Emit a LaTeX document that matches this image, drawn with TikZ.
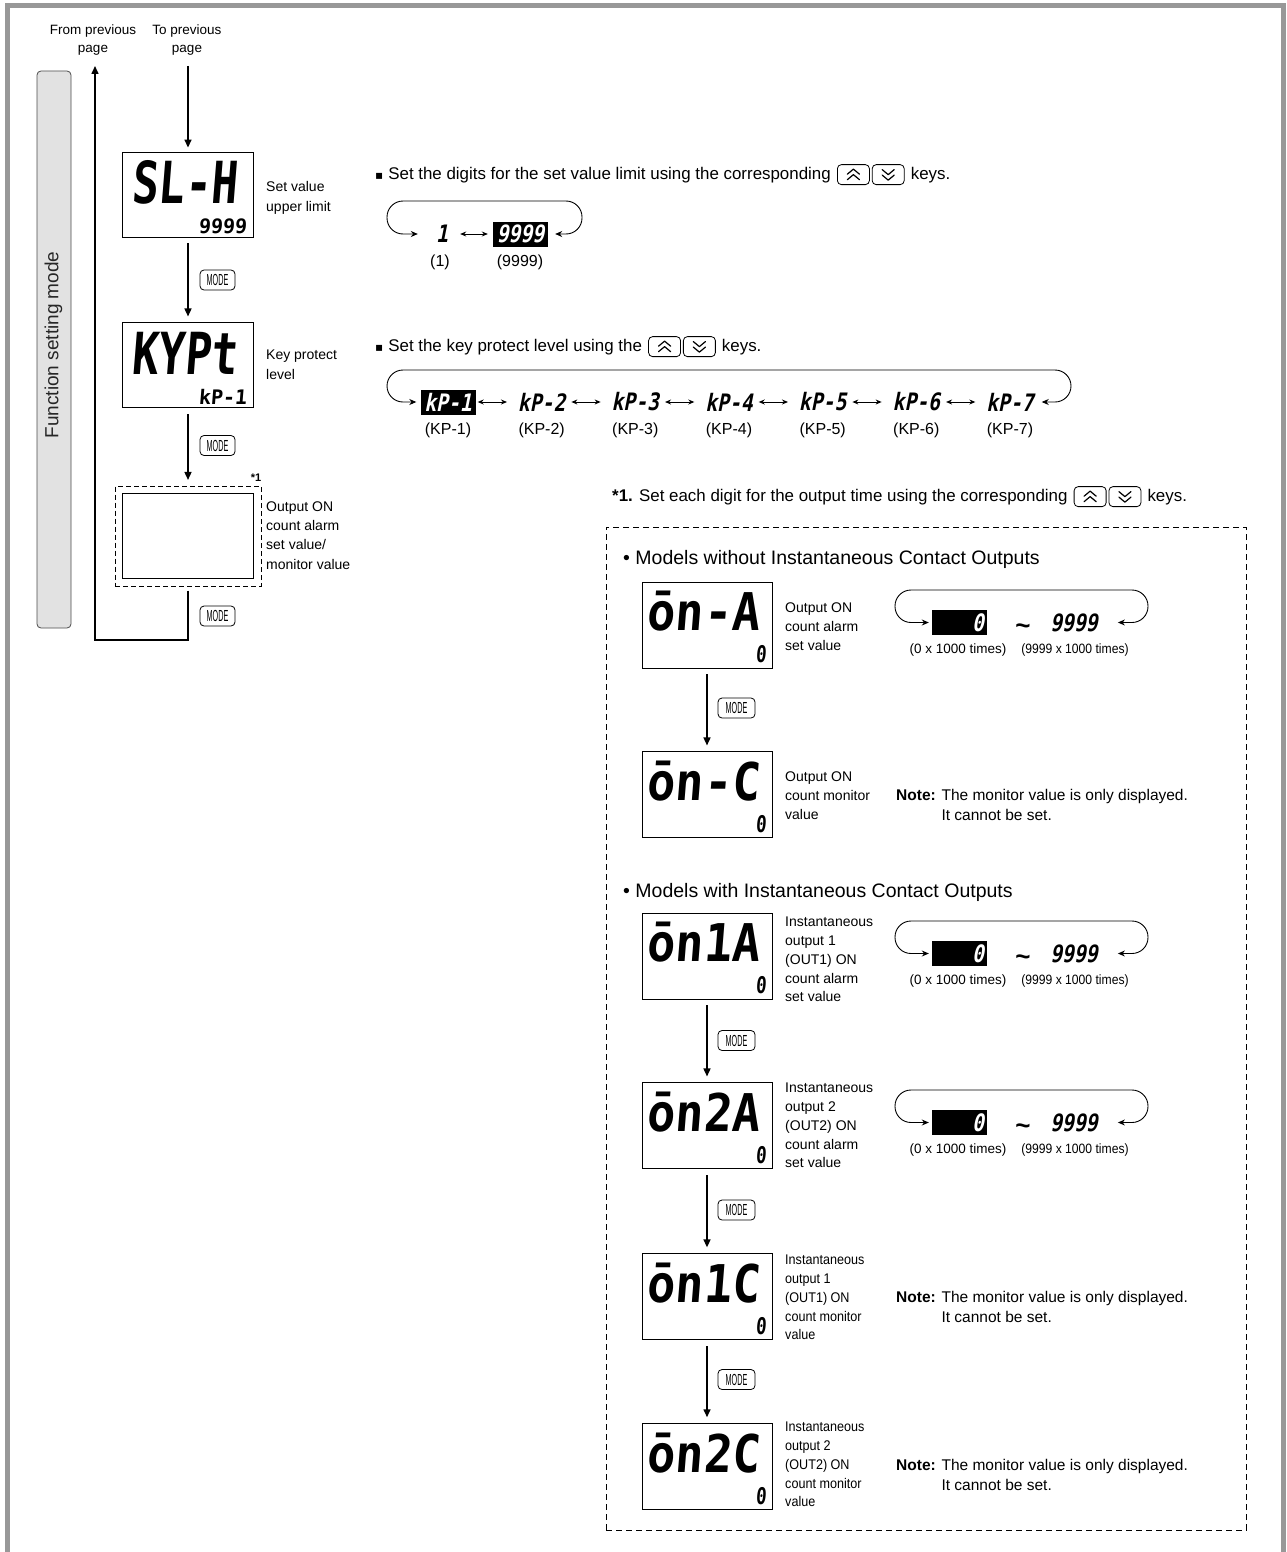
\documentclass[tikz,border=0pt]{standalone}
\usepackage{fontspec}
\setmainfont{Liberation Sans}
\newfontfamily\symfont{DejaVu Sans}
\newfontfamily\lcdfont{DejaVu Sans Mono}[FakeStretch=0.76,FakeSlant=0.08]
\newfontfamily\lcdmid{DejaVu Sans Mono}[FakeStretch=0.9,FakeSlant=0.08]
\newfontfamily\lcdsmall{DejaVu Sans Mono}[FakeSlant=0.08]
\newfontfamily\lcdital{DejaVu Sans Mono}[FakeStretch=0.82,FakeSlant=0.2]
\newfontfamily\keyfont{Liberation Sans}[FakeStretch=0.45]
\newfontfamily\narrowfont{Liberation Sans}[FakeStretch=0.9]
\usepackage{tikz}
\usetikzlibrary{arrows.meta, positioning, calc, fit}
\definecolor{framegray}{RGB}{152,152,152}
\definecolor{tabgray}{RGB}{226,226,226}
\newcommand{\fsz}[2]{\fontsize{#1}{#2}\selectfont}
% up/down key pair placed right of a text node
\newcommand{\updnkeys}[2]{%
  \node[keybox, right=6pt of #2] (#1up) {};
  \node[keybox, right=2pt of #1up] (#1dn) {};
  \draw[chev] ([shift={(-6pt,0.5pt)}]#1up.center) -- ([shift={(0pt,5.5pt)}]#1up.center) -- ([shift={(6pt,0.5pt)}]#1up.center);
  \draw[chev] ([shift={(-6pt,-5pt)}]#1up.center) -- ([shift={(0pt,0pt)}]#1up.center) -- ([shift={(6pt,-5pt)}]#1up.center);
  \draw[chev] ([shift={(-6pt,5pt)}]#1dn.center) -- ([shift={(0pt,0pt)}]#1dn.center) -- ([shift={(6pt,5pt)}]#1dn.center);
  \draw[chev] ([shift={(-6pt,-0.5pt)}]#1dn.center) -- ([shift={(0pt,-5.5pt)}]#1dn.center) -- ([shift={(6pt,-0.5pt)}]#1dn.center);
}

\begin{document}
\begin{tikzpicture}[x=1pt, y=-1pt,
      flow/.style={-{Triangle[length=8pt,width=7pt]}, line width=1.5pt, shorten <=6pt, shorten >=6pt},
      looparr/.style={{Stealth[length=7pt,width=6pt]}-{Stealth[length=7pt,width=6pt]}, line width=0.9pt, rounded corners=16pt},
      dbl/.style={{Stealth[length=6pt,width=5pt]}-{Stealth[length=6pt,width=5pt]}, line width=0.9pt, shorten <=2pt, shorten >=7pt},
      lcdbox/.style={draw, line width=0.9pt, minimum width=131pt, minimum height=85pt, inner sep=0pt},
      lcdboxr/.style={lcdbox, minimum width=130pt, minimum height=86pt},
      dashframe/.style={draw, line width=0.8pt, dash pattern=on 6pt off 4pt},
      bigtxt/.style={anchor=base west, inner sep=0pt, font=\lcdfont\bfseries\fsz{58}{58}},
      midtxt/.style={anchor=base west, inner sep=0pt, font=\lcdmid\bfseries\fsz{52}{52}},
      subtxt/.style={anchor=base east, inner sep=0pt, font=\lcdsmall\bfseries\fsz{20}{20}},
      itxt/.style={inner sep=1pt, font=\lcdital\bfseries\fsz{24}{24}},
      blkbox/.style={itxt, fill=black, text=white, minimum width=55pt, minimum height=25pt},
      modekey/.style={draw, rounded corners=4pt, line width=0.8pt, minimum width=35pt, minimum height=20pt, inner sep=0pt, font=\keyfont\fsz{16}{16}},
      keybox/.style={draw, rounded corners=4pt, line width=0.8pt, minimum width=32pt, minimum height=20pt, inner sep=0pt},
      chev/.style={line width=1.2pt, line cap=round, line join=round},
      lbl/.style={anchor=north west, align=left, inner sep=0pt, font=\fsz{14}{19.2}},
      lblr/.style={lbl, font=\fsz{14}{18.8}},
      lbln/.style={lbl, font=\narrowfont\fsz{14}{18.8}},
      head/.style={anchor=base west, inner sep=0pt, font=\fsz{16.9}{20}},
      note/.style={anchor=north west, align=left, inner sep=0pt, font=\fsz{15.5}{20}},
      capt/.style={anchor=base, inner sep=0pt, font=\fsz{16}{18}},
      tabbox/.style={draw=black!70, fill=tabgray, rounded corners=4pt, line width=0.8pt, minimum width=34pt, minimum height=557pt},
    ]
    \useasboundingbox (0,0) rectangle (1286,1552);
    % page frame
    \draw[line width=5pt, framegray] (7.5,1552) -- (7.5,5.8) -- (1283.5,5.8) -- (1283.5,1552);

    % left column
    \node[tabbox] (tab) at (54,349.5) {};
    \node[rotate=90, inner sep=0pt, font=\fsz{19}{22}, text=black!85] (tabtxt) at (53.5,345) {Function setting mode};
    \node[anchor=north, align=center, inner sep=0pt, font=\fsz{13.5}{18}] (fromlbl) at (93,25) {From previous\\page};
    \node[anchor=north, align=center, inner sep=0pt, font=\fsz{13.5}{18}] (tolbl) at (187,25) {To previous\\page};
    \coordinate (upend) at (95,66);
    \coordinate (downst) at (188,66);
    \coordinate (retc) at (188,640);

    \node[lcdbox] (slh) at (188,194.5) {};
    \node[lcdbox, below=85pt of slh] (kypt) {};
    \node[lcdbox, below=85pt of kypt] (onx) {};
    \node[dashframe, fit=(onx), inner sep=7pt, dash pattern=on 5pt off 3pt] (onxf) {};
    \node[bigtxt] (slhtxt) at ([xshift=9pt,yshift=34pt]slh.south west) {SL-H};
    \node[subtxt] (slhval) at ([xshift=-7pt,yshift=4pt]slh.south east) {9999};
    \node[bigtxt] (kypttxt) at ([xshift=9pt,yshift=34pt]kypt.south west) {KYPt};
    \node[subtxt] (kyptval) at ([xshift=-7pt,yshift=4pt]kypt.south east) {kP-1};
    \node[anchor=south east, inner sep=0pt, font=\bfseries\fsz{11}{12}] (fnmark) at ([yshift=4pt]onxf.north east) {*1};

    \node[lbl] (slhlbl) at (266,181.5) {Set value\\upper limit};
    \node[lbl] (kyptlbl) at (266,350) {Key protect\\level};
    \node[lbl] (onxlbl) at (266,501.5) {Output ON\\count alarm\\set value/\\monitor value};

    \node[modekey] (mk1) at (217.5,280) {MODE};
    \node[modekey] (mk2) at (217.5,445.5) {MODE};
    \node[modekey] (mk3) at (217.5,616) {MODE};

    \draw[flow, shorten <=0pt, shorten >=4pt] (downst) -- (slh);
    \draw[flow] (slh) -- (kypt);
    \draw[flow] (kypt) -- (onxf);
    \draw[flow, shorten <=4pt, shorten >=0pt] (onxf) -- (retc) -| (upend);

    % set value limit
    \node[head] (t1) at (375,179) {{\symfont\fsz{12}{12}▪}\hspace{5pt}Set the digits for the set value limit using the corresponding};
    \updnkeys{t1k}{t1}
    \node[head] (t1end) at ($(t1kdn.east |- t1.base)+(6,0)$) {keys.};
    \node[itxt, minimum width=34pt] (c1) at (442,234) {1};
    \node[blkbox] (c9999) at (520.5,234) {9999};
    \draw[dbl, shorten <=1pt, shorten >=5pt] (c1) -- (c9999);
    \draw[looparr, shorten <=7pt, shorten >=7pt] (c9999.east) -- (582,234) -- (582,201) -- (387,201) -- (387,234) -- (c1.west);
    \node[capt] (c1lbl) at (440,266) {(1)};
    \node[capt] (c9999lbl) at (520,266) {(9999)};

    % key protect level
    \node[head] (t2) at (375,351) {{\symfont\fsz{12}{12}▪}\hspace{5pt}Set the key protect level using the};
    \updnkeys{t2k}{t2}
    \node[head] (t2end) at ($(t2kdn.east |- t2.base)+(6,0)$) {keys.};
    \node[blkbox] (k1) at (448,402) {kP-1};
    \foreach \i in {2,...,7}
      \node[itxt, minimum width=55pt] (k\i) at ({448+(\i-1)*93.67},402) {kP-\i};
    \foreach \a/\b in {1/2,2/3,3/4,4/5,5/6,6/7}
      \draw[dbl] (k\a) -- (k\b);
    \draw[looparr, shorten <=4pt, shorten >=4pt] (k7.east) -- (1071,402) -- (1071,370) -- (387,370) -- (387,402) -- (k1.west);
    \foreach \i in {1,...,7}
      \node[capt] (kl\i) at ({448+(\i-1)*93.67},434) {(KP-\i)};

    % note *1
    \node[head] (t3) at (612,501) {\textbf{*1.} Set each digit for the output time using the corresponding};
    \updnkeys{t3k}{t3}
    \node[head] (t3end) at ($(t3kdn.east |- t3.base)+(6,0)$) {keys.};
    \node[dashframe, minimum width=640pt, minimum height=1003pt, inner sep=0pt] (panel) at (926,1028.5) {};
    \node[head, font=\fsz{19.5}{22}] (hA) at (623,564) {• Models without Instantaneous Contact Outputs};
    \node[head, font=\fsz{19.5}{22}] (hB) at (623,897) {• Models with Instantaneous Contact Outputs};

    % right column displays
    \node[lcdboxr] (onA) at (707,625) {};
    \node[lcdboxr, below=83pt of onA] (onC) {};
    \node[lcdboxr] (on1A) at (707,956) {};
    \node[lcdboxr, below=83pt of on1A] (on2A) {};
    \node[lcdboxr, below=84pt of on2A] (on1C) {};
    \node[lcdboxr, below=83pt of on1C] (on2C) {};
    \foreach \nm/\txt in {onA/ōn-A, onC/ōn-C, on1A/ōn1A, on2A/ōn2A, on1C/ōn1C, on2C/ōn2C} {
      \node[midtxt] (\nm txt) at ([xshift=5pt,yshift=38pt]\nm.south west) {\txt};
      \node[subtxt, font=\lcdfont\bfseries\fsz{23}{23}] (\nm val) at ([xshift=-6pt,yshift=6pt]\nm.south east) {0};
    }
    \node[lblr] (onAlbl) at (785,602.8) {Output ON\\count alarm\\set value};
    \node[lblr] (onClbl) at (785,771.8) {Output ON\\count monitor\\value};
    \node[lblr] (on1Albl) at (785,916.8) {Instantaneous\\output 1\\(OUT1) ON\\count alarm\\set value};
    \node[lblr] (on2Albl) at (785,1082.8) {Instantaneous\\output 2\\(OUT2) ON\\count alarm\\set value};
    \node[lbln] (on1Clbl) at (785,1254.8) {Instantaneous\\output 1\\(OUT1) ON\\count monitor\\value};
    \node[lbln] (on2Clbl) at (785,1421.8) {Instantaneous\\output 2\\(OUT2) ON\\count monitor\\value};

    \node[modekey, minimum width=37pt] (mk4) at (736.5,708) {MODE};
    \node[modekey, minimum width=37pt] (mk5) at (736.5,1040.5) {MODE};
    \node[modekey, minimum width=37pt] (mk6) at (736.5,1210) {MODE};
    \node[modekey, minimum width=37pt] (mk7) at (736.5,1379.5) {MODE};
    \draw[flow] (onA) -- (onC);
    \draw[flow] (on1A) -- (on2A);
    \draw[flow] (on2A) -- (on1C);
    \draw[flow] (on1C) -- (on2C);

    % count ranges
    \foreach \nm/\yy in {A/582, P/913, Q/1082} {
      \node[blkbox, text width=49pt, align=right, inner sep=3pt] (z\nm) at (959.5,\yy+40.5) {0};
      \node[itxt] (n\nm) at (1074,\yy+40.5) {9999};
      \node[inner sep=0pt, font=\bfseries\fsz{26}{26}] (w\nm) at (1023,\yy+47) {\textasciitilde};
      \draw[looparr, shorten <=19pt, shorten >=3pt] (n\nm.east) -- (1148,\yy+40.5) -- (1148,\yy+8) -- (895,\yy+8) -- (895,\yy+40.5) -- (z\nm.west);
      \node[capt, font=\fsz{13.5}{15}] (zl\nm) at (958,\yy+71) {(0 x 1000 times)};
      \node[capt, font=\narrowfont\fsz{13.5}{15}] (nl\nm) at (1075,\yy+71) {(9999 x 1000 times)};
    }

    % notes
    \node[note] (noteC) at (896,789.5) {\textbf{Note:} The monitor value is only displayed.\\\phantom{\textbf{Note:} }It cannot be set.};
    \node[note] (note1C) at (896,1291.5) {\textbf{Note:} The monitor value is only displayed.\\\phantom{\textbf{Note:} }It cannot be set.};
    \node[note] (note2C) at (896,1459.5) {\textbf{Note:} The monitor value is only displayed.\\\phantom{\textbf{Note:} }It cannot be set.};
  \end{tikzpicture}
\end{document}
